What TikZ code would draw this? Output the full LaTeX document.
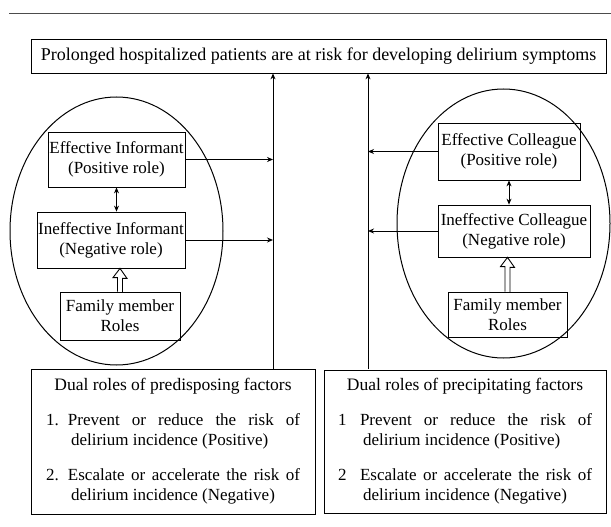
\documentclass[tikz,border=0pt]{standalone}
\usepackage{fontspec}
\setmainfont{Liberation Serif}
\usetikzlibrary{arrows.meta}

\begin{document}
\begin{tikzpicture}[x=1pt,y=-1pt,font=\fontsize{17}{20}\selectfont,
  >={Stealth[length=6pt,width=5pt]},
  box/.style={draw,line width=0.8pt,align=center,inner sep=0pt},
  link/.style={line width=1pt,->},
  hollow/.style={line width=0.9pt,line join=miter}]
\useasboundingbox (0,0) rectangle (611,527);

\draw[line width=1pt,black!70] (9,14) -- (611,14);

\node[box,minimum width=575pt,minimum height=34pt,font=\fontsize{18}{20}\selectfont] (t) at (318.5,56) {Prolonged hospitalized patients are at risk for developing delirium symptoms};

\coordinate (lb) at (273,369);
\coordinate (rb) at (368,369);

% informant side
\begin{scope}
\draw[line width=1pt] (116.5,231) ellipse [x radius=106.5, y radius=134];
\node[box,minimum width=137pt,minimum height=55pt] (ei) at (116.5,159.5) {Effective Informant\\(Positive role)};
\node[box,minimum width=148pt,minimum height=56pt] (ni) at (111,240) {Ineffective Informant\\(Negative role)};
\node[box,minimum width=120pt,minimum height=48pt] (fi) at (120,316) {Family member\\Roles};

\draw[line width=0.8pt,<->] (ei.south) -- (ei.south |- ni.north);
\draw[hollow] (fi.north) ++(-2.5,0) -- ++(0,-14) -- ++(-4.5,0) -- (fi.north |- ni.south) -- ++(7,10) -- ++(-4.5,0) -- ++(0,14);
\draw[link] (ei.east) -- (ei.east -| lb);
\draw[link] (ni.east) -- (ni.east -| lb);
\end{scope}

% colleague side
\begin{scope}
\draw[line width=1pt] (503.5,223.5) ellipse [x radius=106.5, y radius=134.5];
\node[box,minimum width=142pt,minimum height=57pt] (ec) at (509,151.5) {Effective Colleague\\(Positive role)};
\node[box,minimum width=152pt,minimum height=52pt] (nc) at (514,231) {Ineffective Colleague\\(Negative role)};
\node[box,minimum width=119pt,minimum height=45pt] (fc) at (507.5,314.5) {Family member\\Roles};

\draw[line width=0.8pt,<->] (ec.south) -- (ec.south |- nc.north);
\draw[hollow] (fc.north) ++(-2.5,0) -- ++(0,-25) -- ++(-4.5,0) -- (fc.north |- nc.south) -- ++(7,10) -- ++(-4.5,0) -- ++(0,25);
\draw[link] (ec.west) -- (ec.west -| rb);
\draw[link] (nc.west) -- (nc.west -| rb);
\end{scope}

% factors
\node[box,minimum width=284pt,minimum height=145pt] (pd) at (173,441.5) {\fontsize{17.5}{20}\selectfont Dual roles of predisposing factors\\[15pt]
\makebox[22pt][l]{1.}\makebox[232pt][s]{Prevent or reduce the risk of}\\
\makebox[254pt][l]{\hspace*{25pt}delirium incidence (Positive)}\\[15pt]
\makebox[22pt][l]{2.}\makebox[232pt][s]{Escalate or accelerate the risk of}\\
\makebox[254pt][l]{\hspace*{25pt}delirium incidence (Negative)}};
\node[box,minimum width=282pt,minimum height=143pt] (pc) at (465,441.5) {\fontsize{17.5}{20}\selectfont Dual roles of precipitating factors\\[15pt]
\makebox[22pt][l]{1}\makebox[232pt][s]{Prevent or reduce the risk of}\\
\makebox[254pt][l]{\hspace*{25pt}delirium incidence (Positive)}\\[15pt]
\makebox[22pt][l]{2}\makebox[232pt][s]{Escalate or accelerate the risk of}\\
\makebox[254pt][l]{\hspace*{25pt}delirium incidence (Negative)}};

\draw[link] (lb) -- (lb |- t.south);
\draw[link] (rb) -- (rb |- t.south);

\end{tikzpicture}
\end{document}
